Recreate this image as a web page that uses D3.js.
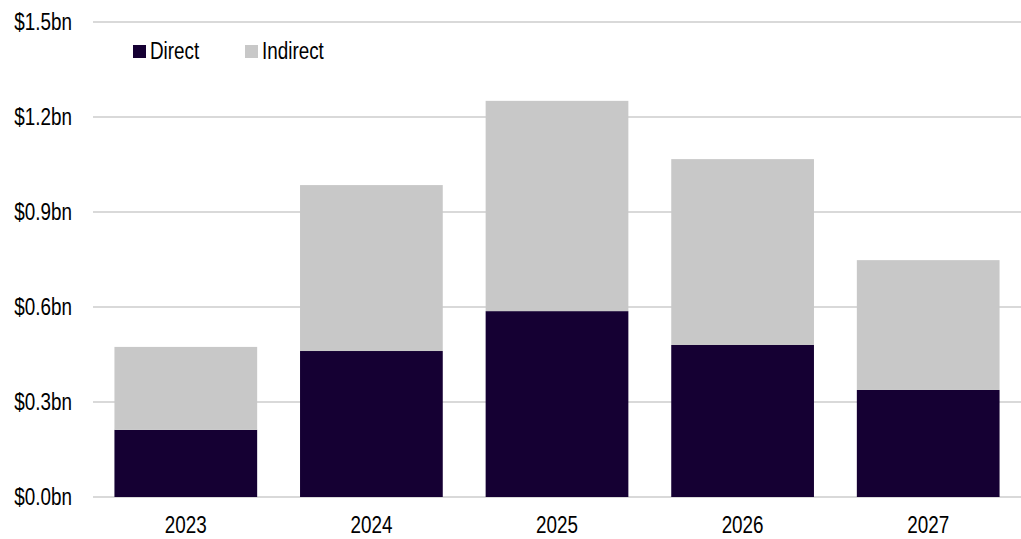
<!DOCTYPE html>
<html>
<head>
<meta charset="utf-8">
<script src="https://cdn.jsdelivr.net/npm/d3@7"></script>
<style>
  body { margin: 0; background: #fff; }
  svg text { font-family: "Liberation Sans", Arial, sans-serif; fill: #000; }
</style>
</head>
<body>
<svg id="chart" width="1021" height="539"></svg>
<script>
// chart data
var years = ["2023", "2024", "2025", "2026", "2027"];
var direct = [0.212, 0.461, 0.587, 0.480, 0.338];
var indirect = [0.262, 0.524, 0.664, 0.587, 0.410];
var yTicks = [0, 0.3, 0.6, 0.9, 1.2, 1.5];
var seriesNames = ["Direct", "Indirect"];
var seriesColors = ["#150033", "#c8c8c8"];

var width = 1021, height = 539;
var narrow = 0.82; // squeeze text to look like Arial Narrow
var svg = d3.select("#chart");

function place(px, py) { return "translate(" + px + "," + py + ") scale(" + narrow + ",1)"; }

var x = d3.scaleBand()
    .domain(years)
    .range([93, 1021])
    .paddingInner(0.231)
    .paddingOuter(0.1155);

var y = d3.scaleLinear()
    .domain([0, 1.5])
    .range([497, 22]);

// gridlines
svg.append("g")
    .selectAll("line")
    .data(yTicks)
    .enter()
    .append("line")
      .attr("x1", 93)
      .attr("x2", 1021)
      .attr("y1", function(d) { return y(d); })
      .attr("y2", function(d) { return y(d); })
      .style("stroke", "#d9d9d9")
      .style("stroke-width", "2px");

// y labels
svg.append("g")
    .selectAll("text")
    .data(yTicks)
    .enter()
    .append("text")
      .attr("transform", function(d) { return place(72, y(d)); })
      .attr("dy", "0.35em")
      .attr("text-anchor", "end")
      .style("font-size", "23px")
      .text(function(d) { return "$" + d.toFixed(1) + "bn"; });

// stacked data
var rows = years.map(function(yr, i) { return { year: yr, Direct: direct[i], Indirect: indirect[i] }; });
var stacked = d3.stack().keys(seriesNames)(rows);

svg.append("g")
    .selectAll("g")
    .data(stacked)
    .enter()
    .append("g")
      .style("fill", function(d, i) { return seriesColors[i]; })
    .selectAll("rect")
    .data(function(d) { return d; })
    .enter()
    .append("rect")
      .attr("x", function(d) { return x(d.data.year); })
      .attr("width", x.bandwidth())
      .attr("y", function(d) { return y(d[1]); })
      .attr("height", function(d) { return y(d[0]) - y(d[1]); });

// x labels
svg.append("g")
    .selectAll("text")
    .data(years)
    .enter()
    .append("text")
      .attr("transform", function(d) { return place(x(d) + x.bandwidth() / 2, 533); })
      .attr("text-anchor", "middle")
      .style("font-size", "23px")
      .text(function(d) { return d; });

// legend
var legendX = [133, 245];
var legend = svg.append("g")
    .selectAll("g")
    .data(seriesNames)
    .enter()
    .append("g")
      .attr("transform", function(d, i) { return "translate(" + legendX[i] + ",45)"; });

legend.append("rect")
    .attr("width", 13)
    .attr("height", 13)
    .style("fill", function(d, i) { return seriesColors[i]; });

legend.append("text")
    .attr("transform", place(17, 14))
    .style("font-size", "23px")
    .text(function(d) { return d; });
</script>
</body>
</html>
